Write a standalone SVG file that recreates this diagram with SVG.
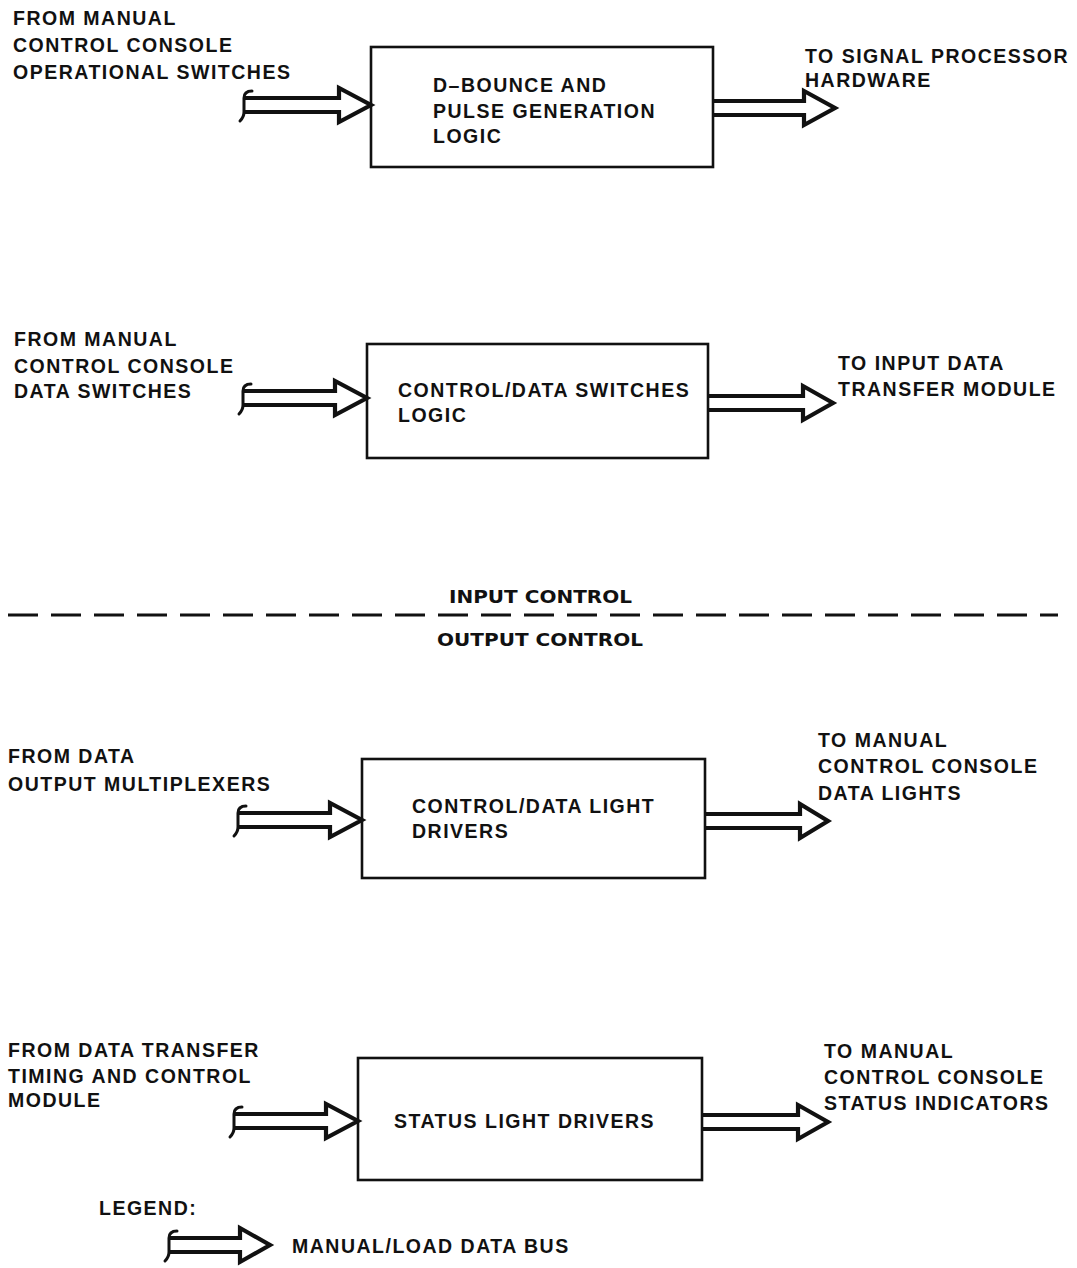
<svg xmlns="http://www.w3.org/2000/svg" width="1077" height="1268" viewBox="0 0 1077 1268">
  <style>
    .bg { fill: #ffffff; }
    .box { fill: none; stroke: #111; stroke-width: 2.6; }
    .bus { fill: none; stroke: #111; stroke-width: 4.2; stroke-linejoin: miter; stroke-linecap: butt; }
    .tail { fill: none; stroke: #111; stroke-width: 3; stroke-linecap: round; }
    .lbl { font-family: "Liberation Sans", Arial, sans-serif; font-weight: bold; font-size: 19.5px; letter-spacing: 1.5px; fill: #111; }
    .sec { font-family: "DejaVu Sans Condensed", "DejaVu Sans", sans-serif; font-stretch: condensed; font-weight: bold; font-size: 18px; fill: #111; }
    .divider { stroke: #111; stroke-width: 2.8; stroke-dasharray: 30 13; fill: none; }
  </style>

  <rect class="bg" x="0" y="0" width="1077" height="1268"/>

  <!-- blocks -->
  <g id="debounce-logic">
    <rect class="box" x="371" y="47" width="342" height="120"/>
    <text class="lbl" x="433" y="92">D–BOUNCE AND</text>
    <text class="lbl" x="433" y="118">PULSE GENERATION</text>
    <text class="lbl" x="433" y="143">LOGIC</text>
  </g>

  <g id="switches-logic">
    <rect class="box" x="367" y="344" width="341" height="114"/>
    <text class="lbl" x="398" y="397">CONTROL/DATA SWITCHES</text>
    <text class="lbl" x="398" y="422">LOGIC</text>
  </g>

  <g id="light-drivers">
    <rect class="box" x="362" y="759" width="343" height="119"/>
    <text class="lbl" x="412" y="813">CONTROL/DATA LIGHT</text>
    <text class="lbl" x="412" y="838">DRIVERS</text>
  </g>

  <g id="status-drivers">
    <rect class="box" x="358" y="1058" width="344" height="122"/>
    <text class="lbl" x="394" y="1128">STATUS LIGHT DRIVERS</text>
  </g>

  <!-- source / destination labels -->
  <g id="src-operational">
    <text class="lbl" x="13" y="25">FROM MANUAL</text>
    <text class="lbl" x="13" y="52">CONTROL CONSOLE</text>
    <text class="lbl" x="13" y="79">OPERATIONAL SWITCHES</text>
  </g>
  <g id="dst-signal-processor">
    <text class="lbl" x="805" y="63">TO SIGNAL PROCESSOR</text>
    <text class="lbl" x="805" y="87">HARDWARE</text>
  </g>
  <g id="src-data-switches">
    <text class="lbl" x="14" y="346">FROM MANUAL</text>
    <text class="lbl" x="14" y="373">CONTROL CONSOLE</text>
    <text class="lbl" x="14" y="398">DATA SWITCHES</text>
  </g>
  <g id="dst-input-transfer">
    <text class="lbl" x="838" y="370">TO INPUT DATA</text>
    <text class="lbl" x="838" y="396">TRANSFER MODULE</text>
  </g>
  <g id="src-multiplexers">
    <text class="lbl" x="8" y="763">FROM DATA</text>
    <text class="lbl" x="8" y="791">OUTPUT MULTIPLEXERS</text>
  </g>
  <g id="dst-data-lights">
    <text class="lbl" x="818" y="747">TO MANUAL</text>
    <text class="lbl" x="818" y="773">CONTROL CONSOLE</text>
    <text class="lbl" x="818" y="800">DATA LIGHTS</text>
  </g>
  <g id="src-timing">
    <text class="lbl" x="8" y="1057">FROM DATA TRANSFER</text>
    <text class="lbl" x="8" y="1083">TIMING AND CONTROL</text>
    <text class="lbl" x="8" y="1107">MODULE</text>
  </g>
  <g id="dst-status">
    <text class="lbl" x="824" y="1058">TO MANUAL</text>
    <text class="lbl" x="824" y="1084">CONTROL CONSOLE</text>
    <text class="lbl" x="824" y="1110">STATUS INDICATORS</text>
  </g>

  <!-- input / output section divider -->
  <g id="section-divider">
    <text class="sec" x="449" y="603" textLength="183" lengthAdjust="spacingAndGlyphs">INPUT CONTROL</text>
    <line class="divider" x1="8" y1="615" x2="1058" y2="615"/>
    <text class="sec" x="437" y="646" textLength="206" lengthAdjust="spacingAndGlyphs">OUTPUT CONTROL</text>
  </g>

  <!-- bus connectors: double line with open head; inputs carry a bracket tail -->
  <g id="connectors">
    <g transform="translate(243,105)">
      <path class="bus" d="M2,-7 H96 V-17 L128,0 L96,17 V7 H2"/>
      <path class="tail" d="M9,-14 C3,-14 1,-11 1,-7 V7 C1,11 -1,14 -3,16"/>
    </g>
    <g transform="translate(713,108)">
      <path class="bus" d="M0,-7 H91 V-17 L122,0 L91,17 V7 H0"/>
    </g>

    <g transform="translate(242,398)">
      <path class="bus" d="M2,-7 H93 V-17 L125,0 L93,17 V7 H2"/>
      <path class="tail" d="M9,-14 C3,-14 1,-11 1,-7 V7 C1,11 -1,14 -3,16"/>
    </g>
    <g transform="translate(708,403)">
      <path class="bus" d="M0,-7 H95 V-17 L125,0 L95,17 V7 H0"/>
    </g>

    <g transform="translate(237,820)">
      <path class="bus" d="M2,-7 H93 V-17 L125,0 L93,17 V7 H2"/>
      <path class="tail" d="M9,-14 C3,-14 1,-11 1,-7 V7 C1,11 -1,14 -3,16"/>
    </g>
    <g transform="translate(705,821)">
      <path class="bus" d="M0,-7 H95 V-17 L123,0 L95,17 V7 H0"/>
    </g>

    <g transform="translate(233,1121)">
      <path class="bus" d="M2,-7 H93 V-17 L125,0 L93,17 V7 H2"/>
      <path class="tail" d="M9,-14 C3,-14 1,-11 1,-7 V7 C1,11 -1,14 -3,16"/>
    </g>
    <g transform="translate(702,1122)">
      <path class="bus" d="M0,-7 H96 V-17 L126,0 L96,17 V7 H0"/>
    </g>
  </g>

  <!-- legend -->
  <g id="legend">
    <text class="lbl" x="99" y="1215">LEGEND:</text>
    <g transform="translate(168,1245)">
      <path class="bus" d="M2,-7 H72 V-17 L102,0 L72,17 V7 H2"/>
      <path class="tail" d="M9,-14 C3,-14 1,-11 1,-7 V7 C1,11 -1,14 -3,16"/>
    </g>
    <text class="lbl" x="292" y="1253">MANUAL/LOAD DATA BUS</text>
  </g>
</svg>
